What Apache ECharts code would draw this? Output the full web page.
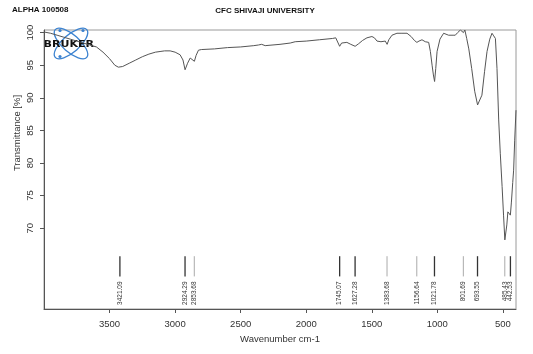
<!DOCTYPE html>
<html><head><meta charset="utf-8">
<script src="https://cdn.jsdelivr.net/npm/echarts@6/dist/echarts.min.js"></script>
<style>html,body{margin:0;padding:0;background:#fff}#c{width:533px;height:354px}</style>
</head><body><div id="c"></div>
<script>
const wavenumbers = [4000,3950,3900,3850,3800,3750,3700,3650,3600,3550,3500,3460,3433,3421,3400,3350,3300,3250,3200,3150,3115,3080,3038,3000,2962,2940,2924,2905,2885,2870,2853,2840,2822,2800,2700,2600,2500,2400,2364,2350,2340,2330,2313,2200,2122,2084,2000,1900,1800,1775,1760,1745,1730,1715,1690,1660,1627,1600,1570,1537,1499,1480,1460,1430,1397,1383,1370,1346,1308,1270,1231,1200,1175,1156,1140,1117,1092,1066,1053,1040,1030,1021,1012,1002,980,952,914,880,863,845,824,810,801,790,776,760,738,715,693,680,660,640,621,600,583,570,557,545,532,520,506,495,485,478,470,462,455,443,435,425,418,410,400];
const transmittance = [100.1,99.9,99.6,99.3,99.0,98.7,98.4,98.1,97.8,97.0,96.0,95.0,94.7,94.6,94.8,95.3,95.8,96.3,96.7,97.0,97.1,97.2,97.2,97.0,96.6,95.8,94.3,95.3,96.1,95.9,95.6,96.5,97.3,97.4,97.5,97.7,97.8,98.0,98.1,98.3,98.2,98.0,98.0,98.2,98.4,98.6,98.7,98.9,99.1,99.2,99.0,97.9,98.4,98.7,98.5,98.2,97.9,98.3,98.8,99.2,99.4,99.2,98.7,98.6,98.7,98.2,98.9,99.6,99.9,99.9,99.9,99.4,98.8,98.5,98.7,98.9,98.6,98.5,97.1,95.0,93.5,92.5,94.5,97.1,99.0,99.9,99.6,99.6,99.6,100.0,100.4,100.1,100.0,100.4,99.1,97.5,94.5,91.0,88.9,89.5,90.4,94.0,97.1,99.0,99.9,99.5,99.1,94.5,86.6,81.5,76.4,72.0,68.2,68.5,70.5,72.5,72.3,72.0,74.0,77.0,78.9,83.5,88.1];
const peakWavenumbers = [3421.09,2924.29,2853.68,1745.07,1627.28,1383.68,1156.64,1021.78,801.69,693.55,485.43,442.53];
const peakLabels = ['3421.09','2924.29','2853.68','1745.07','1627.28','1383.68','1156.64','1021.78','801.69','693.55','485.43','442.53'];
const strongPeaks = [3421.09,2924.29,1745.07,1627.28,1021.78,693.55,442.53];
const xTicks = [500,1000,1500,2000,2500,3000,3500];
const yTicks = [70,75,80,85,90,95,100];

const FONT = 'Liberation Sans, Arial, sans-serif';
const chart = echarts.init(document.getElementById('c'), null, {renderer:'canvas'});
const markTop = 65.7, markBottom = 62.6;

chart.setOption({
  animation:false,
  backgroundColor:'#fff',
  grid:{left:44,right:17,top:30,bottom:45,show:true,borderColor:'#9a9a9a',borderWidth:1,backgroundColor:'transparent'},
  xAxis:{type:'value',min:400,max:4000,inverse:true,
    axisLine:{show:true,lineStyle:{color:'#555',width:1}},
    axisTick:{show:true,length:4,customValues:xTicks,lineStyle:{color:'#555'}},
    axisLabel:{customValues:xTicks,formatter:v=>String(v),fontSize:9.5,color:'#333',margin:10,fontFamily:FONT},
    splitLine:{show:false},
    name:'Wavenumber cm-1',nameLocation:'middle',nameGap:24,
    nameTextStyle:{fontSize:9.5,color:'#333',fontFamily:FONT}},
  yAxis:{type:'value',min:57.6,max:100.4,
    axisLine:{show:true,lineStyle:{color:'#555',width:1}},
    axisTick:{show:true,length:4,customValues:yTicks,lineStyle:{color:'#555'}},
    axisLabel:{customValues:yTicks,formatter:v=>String(v),rotate:90,fontSize:9.5,color:'#333',margin:9,fontFamily:FONT},
    splitLine:{show:false}},
  graphic:[
    {type:'text',left:12,top:6,style:{text:'ALPHA 100508',font:'bold 8px '+FONT,fill:'#111'}},
    {type:'text',x:265,y:11,style:{text:'CFC SHIVAJI UNIVERSITY',font:'bold 8px '+FONT,fill:'#111',align:'center',verticalAlign:'middle'}},
    {type:'text',x:17,y:133,rotation:Math.PI/2,style:{text:'Transmittance [%]',font:'9.5px '+FONT,fill:'#333',align:'center',verticalAlign:'middle'}},
    {type:'group',x:71,y:43.5,z:100,children:[
      {type:'ellipse',rotation:0.72,shape:{cx:0,cy:0,rx:21,ry:8.5},style:{fill:'none',stroke:'#3b82d0',lineWidth:1.3}},
      {type:'ellipse',rotation:-0.72,shape:{cx:0,cy:0,rx:21,ry:8.5},style:{fill:'none',stroke:'#3b82d0',lineWidth:1.3}},
      {type:'circle',shape:{cx:-11,cy:-13,r:1.6},style:{fill:'#3b82d0'}},
      {type:'circle',shape:{cx:-11,cy:13,r:1.6},style:{fill:'#3b82d0'}},
      {type:'circle',shape:{cx:12,cy:-13,r:1.6},style:{fill:'#3b82d0'}},
      {type:'text',x:-27.5,y:1,scaleX:1.3,style:{text:'BRUKER',font:'bold 8.5px DejaVu Sans, sans-serif',fill:'#111',align:'left',verticalAlign:'middle'}}
    ]}
  ],
  series:[
    {type:'line',data:wavenumbers.map((w,i)=>[w,transmittance[i]]),showSymbol:false,
     lineStyle:{color:'#555',width:1},z:3},
    {type:'custom',clip:false,z:5,data:peakWavenumbers.map((w,i)=>[w,i]),
     renderItem:function(params,api){
       const wn=api.value(0), idx=api.value(1);
       const p1=api.coord([wn,markTop]), p2=api.coord([wn,markBottom]);
       const strong=strongPeaks.indexOf(peakWavenumbers[idx])>=0;
       return {type:'group',children:[
         {type:'line',shape:{x1:p1[0],y1:p1[1],x2:p2[0],y2:p2[1]},style:{stroke:strong?'#333':'#aaa',lineWidth:strong?1.3:1}},
         {type:'text',x:p2[0],y:p2[1]+5,rotation:Math.PI/2,style:{text:peakLabels[idx],font:'6.5px '+FONT,fill:'#333',align:'right',verticalAlign:'middle'}}
       ]};
     }}
  ]
});
</script></body></html>
